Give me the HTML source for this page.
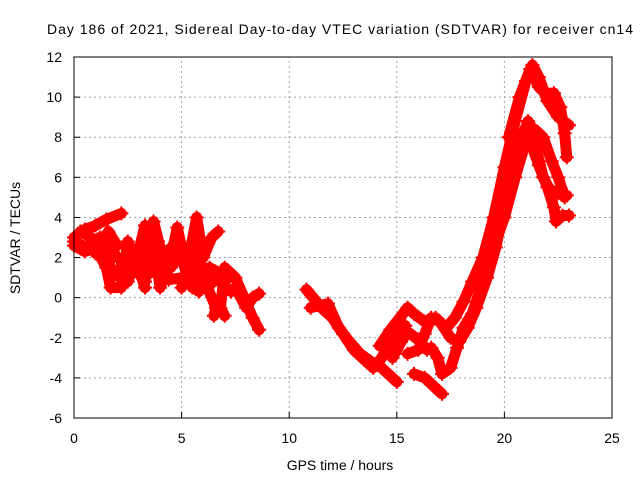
<!DOCTYPE html>
<html><head><meta charset="utf-8"><style>
body{margin:0;background:#fff}
svg{display:block;font-family:"Liberation Sans",sans-serif}
</style></head><body>
<svg width="640" height="480">
<rect width="640" height="480" fill="#fff"/>
<g id="grid"></g><g id="marks"></g><g id="axes"></g>
</svg>
<script>
const xTicks=[0,5,10,15,20,25];
const yTicks=[-6,-4,-2,0,2,4,6,8,10,12];
const trackNames=['m1','m2','m3','m4','m5','m6','m7','m8','m9','m10','m11','a1','a2','a3','a4','a5','a6','a7','a8','a9'];
const m1=[[0,3.0],[0.5,3.4],[1,3.6],[1.5,3.9],[2.2,4.2]];
const m2=[[0,2.6],[0.5,2.3],[1.0,2.5],[1.5,1.5],[1.7,0.5],[2.2,0.5],[2.5,2.8],[3,1.5],[3.3,0.5]];
const m3=[[0,2.8],[0.6,2.5],[1.2,3.0],[1.8,1.2],[2.5,0.8],[3.0,2.3],[3.3,3.6],[3.8,2.0],[4.0,0.5],[4.5,2.0],[4.8,3.5],[5.2,1.5],[5.5,0.5]];
const m4=[[2.8,1.5],[3.3,0.8],[3.7,3.8],[4.0,2.5],[4.5,1.5],[5.0,2.5],[5.2,1.2],[5.7,4.0],[6.0,2.0],[6.4,3.0],[6.7,3.3]];
const m5=[[5.0,0.5],[5.5,2.2],[6.0,1.5],[6.5,0.8],[7.0,1.3],[6.8,-0.5],[7.0,-0.9]];
const m6=[[7.0,1.5],[7.5,1.0],[7.9,0.0],[8.3,-1.0],[8.6,-1.6]];
const m7=[[7.5,0.5],[8.0,-0.5],[8.3,0.0],[8.6,0.2]];
const m8=[[5.8,1.5],[6.2,0.5],[6.6,-0.5],[6.5,-0.9]];
const m9=[[1.0,2.2],[1.5,2.8],[2.0,2.0],[2.6,1.8],[3.2,2.2],[3.8,1.2],[4.4,2.4],[5.0,1.8],[5.6,1.0],[6.2,1.2],[6.8,0.8],[7.3,0.3]];
const m10=[[2.0,1.2],[2.6,2.3],[3.3,1.0],[3.9,2.8],[4.4,0.9],[5.1,1.0],[5.8,0.3],[6.3,1.5],[7.2,1.0]];
const m11=[[0.3,3.3],[0.8,3.0],[1.3,2.4],[1.6,3.3],[2.0,2.6]];
const a1=[[10.8,0.4],[11.5,-0.5],[12,-1.0],[12.5,-1.8],[13,-2.6],[13.5,-3.1],[13.9,-3.5],[14.3,-3.0],[14.7,-2.2],[15.0,-1.8],[15.4,-1.4]];
const a2=[[11,-0.5],[11.8,-0.3],[12.3,-1.5],[12.8,-2.2],[13.3,-2.8],[13.8,-3.2],[14.3,-3.5],[14.8,-4.0],[15.0,-4.2]];
const a3=[[14.2,-2.4],[14.7,-1.6],[15.0,-1.2],[15.5,-0.5],[15.8,-0.8],[16.3,-1.2],[16.8,-1.0],[17.3,-1.5],[17.7,-1.0],[18.1,-0.2],[18.5,0.8],[19,2.0],[19.5,4.0],[20,6.5],[20.5,8.8],[21,10.8],[21.3,11.6],[21.6,11.0],[22,9.8],[22.5,9.0],[23,8.6]];
const a4=[[14.8,-3.0],[15.2,-2.2],[15.5,-1.7],[16,-2.1],[16.4,-2.6]];
const a5=[[15.5,-2.8],[16,-2.6],[16.3,-1.8],[16.6,-1.0],[17,-1.2],[17.5,-2.0],[17.9,-2.2],[18.3,-1.5],[18.7,-0.5],[19.2,1.0],[19.6,2.5],[20,4.5],[20.4,6.5],[20.8,8.0],[21.1,8.8],[21.4,7.8],[21.8,6.0],[22.1,5.4],[22.5,5.2],[22.9,5.1]];
const a6=[[15.8,-3.8],[16.3,-4.0],[16.8,-4.5],[17.1,-4.8]];
const a7=[[16.6,-2.5],[16.9,-3.0],[17.1,-3.8],[17.5,-3.5],[17.8,-2.5],[18.1,-1.5],[18.5,-0.8],[19,0.8],[19.5,2.5],[20,4.0],[20.5,6.0],[21,7.8],[21.4,8.4],[21.8,8.0],[22.2,6.8],[22.5,6.0],[22.8,5.0]];
const a8=[[20.2,8.0],[20.7,10.0],[21.2,11.4],[21.6,10.5],[21.9,10.2],[22.3,10.2],[22.6,9.5],[22.8,8.2],[22.9,7.0]];
const a9=[[21.3,7.5],[21.6,6.6],[22,5.5],[22.3,4.5],[22.4,3.8],[22.7,4.1],[23,4.1]];
const tracks=[m1,m2,m3,m4,m5,m6,m7,m8,m9,m10,m11,a1,a2,a3,a4,a5,a6,a7,a8,a9];

const X0=74,X1=612,Y0=418,Y1=57,xmin=0,xmax=25,ymin=-6,ymax=12;
const sx=v=>X0+(v-xmin)/(xmax-xmin)*(X1-X0);
const sy=v=>Y0-(v-ymin)/(ymax-ymin)*(Y0-Y1);
const NS='http://www.w3.org/2000/svg';
function mk(tag,attrs,parent,text){const e=document.createElementNS(NS,tag);for(const k in attrs)e.setAttribute(k,attrs[k]);if(text!=null)e.textContent=text;parent.appendChild(e);return e;}
const svg=document.querySelector('svg'),grid=document.getElementById('grid'),marks=document.getElementById('marks'),axes=document.getElementById('axes');

xTicks.forEach(t=>{
  if(t>xmin&&t<xmax){const g=mk('line',{x1:sx(t),x2:sx(t),y1:Y0,y2:Y1,stroke:'#a0a0a0','stroke-dasharray':'2,3'},grid);
  
  }
  const tk=mk('line',{x1:sx(t),x2:sx(t),y1:Y0,y2:Y0-6,stroke:'#000'},axes);
  
  
  const tl=mk('text',{x:sx(t),y:Y0+25,'text-anchor':'middle','font-size':'14'},axes,String(t));
  
  
});
yTicks.forEach(t=>{
  if(t>ymin&&t<ymax){const g=mk('line',{x1:X0,x2:X1,y1:sy(t),y2:sy(t),stroke:'#a0a0a0','stroke-dasharray':'2,3'},grid);
  
  }
  const tk=mk('line',{x1:X0,x2:X0+6,y1:sy(t),y2:sy(t),stroke:'#000'},axes);
  
  
  const tl=mk('text',{x:X0-12,y:sy(t)+5,'text-anchor':'end','font-size':'14'},axes,String(t));
  
  
});
const frame=mk('rect',{x:X0,y:Y1,width:X1-X0,height:Y0-Y1,fill:'none',stroke:'#000','stroke-width':1},axes);



tracks.forEach((tr,i)=>{
  const pl=mk('polyline',{points:tr.map(p=>sx(p[0])+','+sy(p[1])).join(' '),fill:'none',stroke:'#ff0000','stroke-width':11,'stroke-linejoin':'round','stroke-linecap':'round'},marks);
  
  
  tr.forEach(p=>{
    const x=sx(p[0]),y=sy(p[1]);
    const m=mk('path',{d:`M${x-7},${y}H${x+7}M${x},${y-7}V${y+7}`,stroke:'#ff0000','stroke-width':2},marks);
    
    
  });
});

const title=mk('text',{x:340,y:34,'text-anchor':'middle','font-size':'14',textLength:586,lengthAdjust:'spacing'},svg,'Day 186 of 2021, Sidereal Day-to-day VTEC variation (SDTVAR) for receiver cn14');


const xl=mk('text',{x:340,y:470,'text-anchor':'middle','font-size':'14'},svg,'GPS time / hours');


const yl=mk('text',{x:0,y:0,'text-anchor':'middle','font-size':'14',transform:'translate(20,238) rotate(-90)'},svg,'SDTVAR / TECUs');


</script>
</body></html>
